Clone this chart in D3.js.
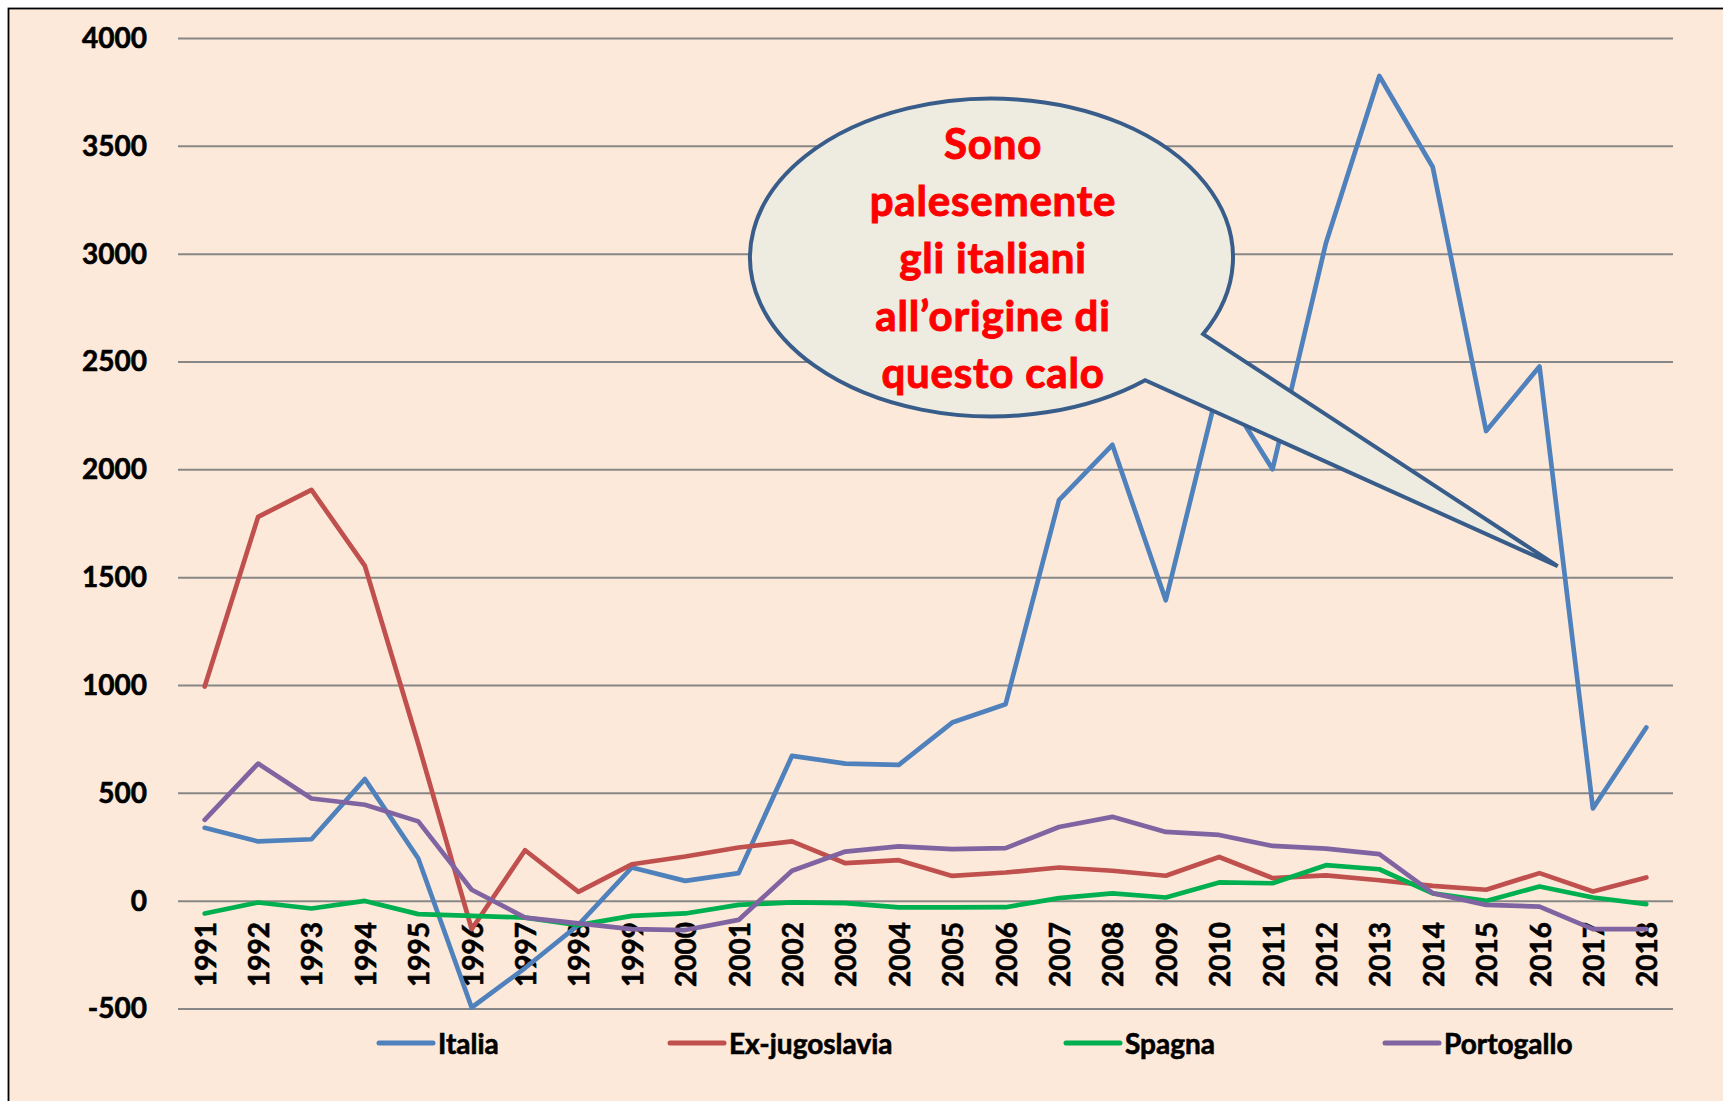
<!DOCTYPE html>
<html>
<head>
<meta charset="utf-8">
<script src="https://cdn.jsdelivr.net/npm/d3@7"></script>
<style>
  body { margin: 0; background: #fff; }
  svg text { font-family: Lato, "Open Sans", sans-serif; font-weight: bold; }
</style>
</head>
<body>
<script>
const years = [1991,1992,1993,1994,1995,1996,1997,1998,1999,2000,2001,2002,2003,2004,2005,2006,2007,2008,2009,2010,2011,2012,2013,2014,2015,2016,2017,2018]
const italia = [340,277,287,566,198,-493,-310,-110,156,94,130,674,638,632,828,913,1859,2116,1395,2400,2003,3052,3826,3404,2180,2479,430,805]
const exJugoslavia = [995,1782,1907,1555,730,-130,236,43,171,207,249,277,176,190,117,133,156,141,118,205,107,120,97,71,53,130,45,110]
const spagna = [-57,-6,-34,1,-60,-68,-76,-111,-68,-57,-17,-6,-9,-29,-29,-28,14,36,17,87,83,167,148,36,1,68,17,-14]
const portogallo = [377,638,476,447,370,53,-76,-103,-130,-134,-87,141,230,254,241,246,344,391,321,307,256,244,218,37,-17,-25,-130,-130]
const yTicks = [-500,0,500,1000,1500,2000,2500,3000,3500,4000]
const seriesNames = ["Italia","Ex-jugoslavia","Spagna","Portogallo"]
const seriesColors = ["#4F81BD","#C0504D","#00B050","#8064A2"]
const calloutLines = ["Sono","palesemente","gli italiani","all\u2019origine di","questo calo"]

let w = 1723, h = 1101
let svg = d3.select("body").append("svg").attr("width", w).attr("height", h)

// frame (only left/top edges visible in the picture)
svg.append("rect")
    .attr("x", 8.5).attr("y", 8.5)
    .attr("width", 1900).attr("height", 1300)
    .attr("fill", "#FDE9D9").attr("stroke", "#000").attr("stroke-width", 1.8)

let xScale = d3.scaleLinear().domain([years[0]-0.5, years[years.length-1]+0.5]).range([178, 1673])
let yScale = d3.scaleLinear().domain([-500, 4000]).range([1009, 38.5])

// gridlines
svg.append("g").selectAll("line")
    .data(yTicks).enter().append("line")
    .attr("x1", 178).attr("x2", 1673)
    .attr("y1", d=>yScale(d)).attr("y2", d=>yScale(d))
    .attr("stroke", "#878787").attr("stroke-width", 2)

// y axis labels
let yAxis = d3.axisLeft(yScale).tickValues(yTicks).tickSize(0).tickPadding(0).tickFormat(d=>String(d))
let yg = svg.append("g").attr("transform", "translate(147,0)").call(yAxis)
yg.select(".domain").remove()
yg.selectAll("text")
    .attr("font-size", 28).attr("fill", "#000")
    .attr("font-family", "Lato, sans-serif").attr("font-weight", "bold")
    .attr("stroke", "#000").attr("stroke-width", 0.6)

// x axis labels (rotated)
svg.append("g").selectAll("text")
    .data(years).enter().append("text")
    .attr("transform", d=>`translate(${xScale(d)},922) rotate(-90)`)
    .attr("text-anchor", "end")
    .attr("dominant-baseline", "central")
    .attr("font-size", 28)
    .attr("stroke", "#000").attr("stroke-width", 0.6)
    .text(d=>d)

let allSeries = [italia, exJugoslavia, spagna, portogallo]
let line = d3.line().x((d,i)=>xScale(years[i])).y(d=>yScale(d))
svg.append("g").selectAll("path")
    .data(allSeries).enter().append("path")
    .attr("d", d=>line(d))
    .attr("fill", "none")
    .attr("stroke", (d,i)=>seriesColors[i])
    .attr("stroke-width", 4.7)
    .attr("stroke-linejoin", "round")
    .attr("stroke-linecap", "round")

// legend
let legendX = [379, 670, 1066, 1385]
let lg = svg.append("g").selectAll("g")
    .data(seriesNames).enter().append("g")
    .attr("transform", (d,i)=>`translate(${legendX[i]},1043)`)
lg.append("line")
    .attr("x1", 0).attr("x2", 54)
    .attr("stroke", (d,i)=>seriesColors[i])
    .attr("stroke-width", 5).attr("stroke-linecap", "round")
lg.append("text")
    .attr("x", 59).attr("dominant-baseline", "central")
    .attr("font-size", 28)
    .attr("stroke", "#000").attr("stroke-width", 0.6)
    .text(d=>d)

// callout bubble
let cx = 991.5, cy = 257.5, rx = 241.5, ry = 159
let tA = 28.8*Math.PI/180, tB = 50.5*Math.PI/180
let ax = cx + rx*Math.cos(tA), ay = cy + ry*Math.sin(tA)
let bx = cx + rx*Math.cos(tB), by = cy + ry*Math.sin(tB)
let tipX = xScale(2016.34), tipY = yScale(1553)
svg.append("path")
    .attr("d", `M${ax},${ay} A${rx},${ry} 0 1 0 ${bx},${by} L${tipX},${tipY} Z`)
    .attr("fill", "#EEECE1")
    .attr("stroke", "#385D8A")
    .attr("stroke-width", 4)
    .attr("stroke-linejoin", "miter")

svg.append("g").selectAll("text")
    .data(calloutLines).enter().append("text")
    .attr("x", 993)
    .attr("y", (d,i)=>159 + i*57.2)
    .attr("text-anchor", "middle")
    .attr("font-size", 42)
    .attr("letter-spacing", 0.8)
    .attr("fill", "#FF0000")
    .attr("stroke", "#FF0000").attr("stroke-width", 1)
    .text(d=>d)
</script>
</body>
</html>
